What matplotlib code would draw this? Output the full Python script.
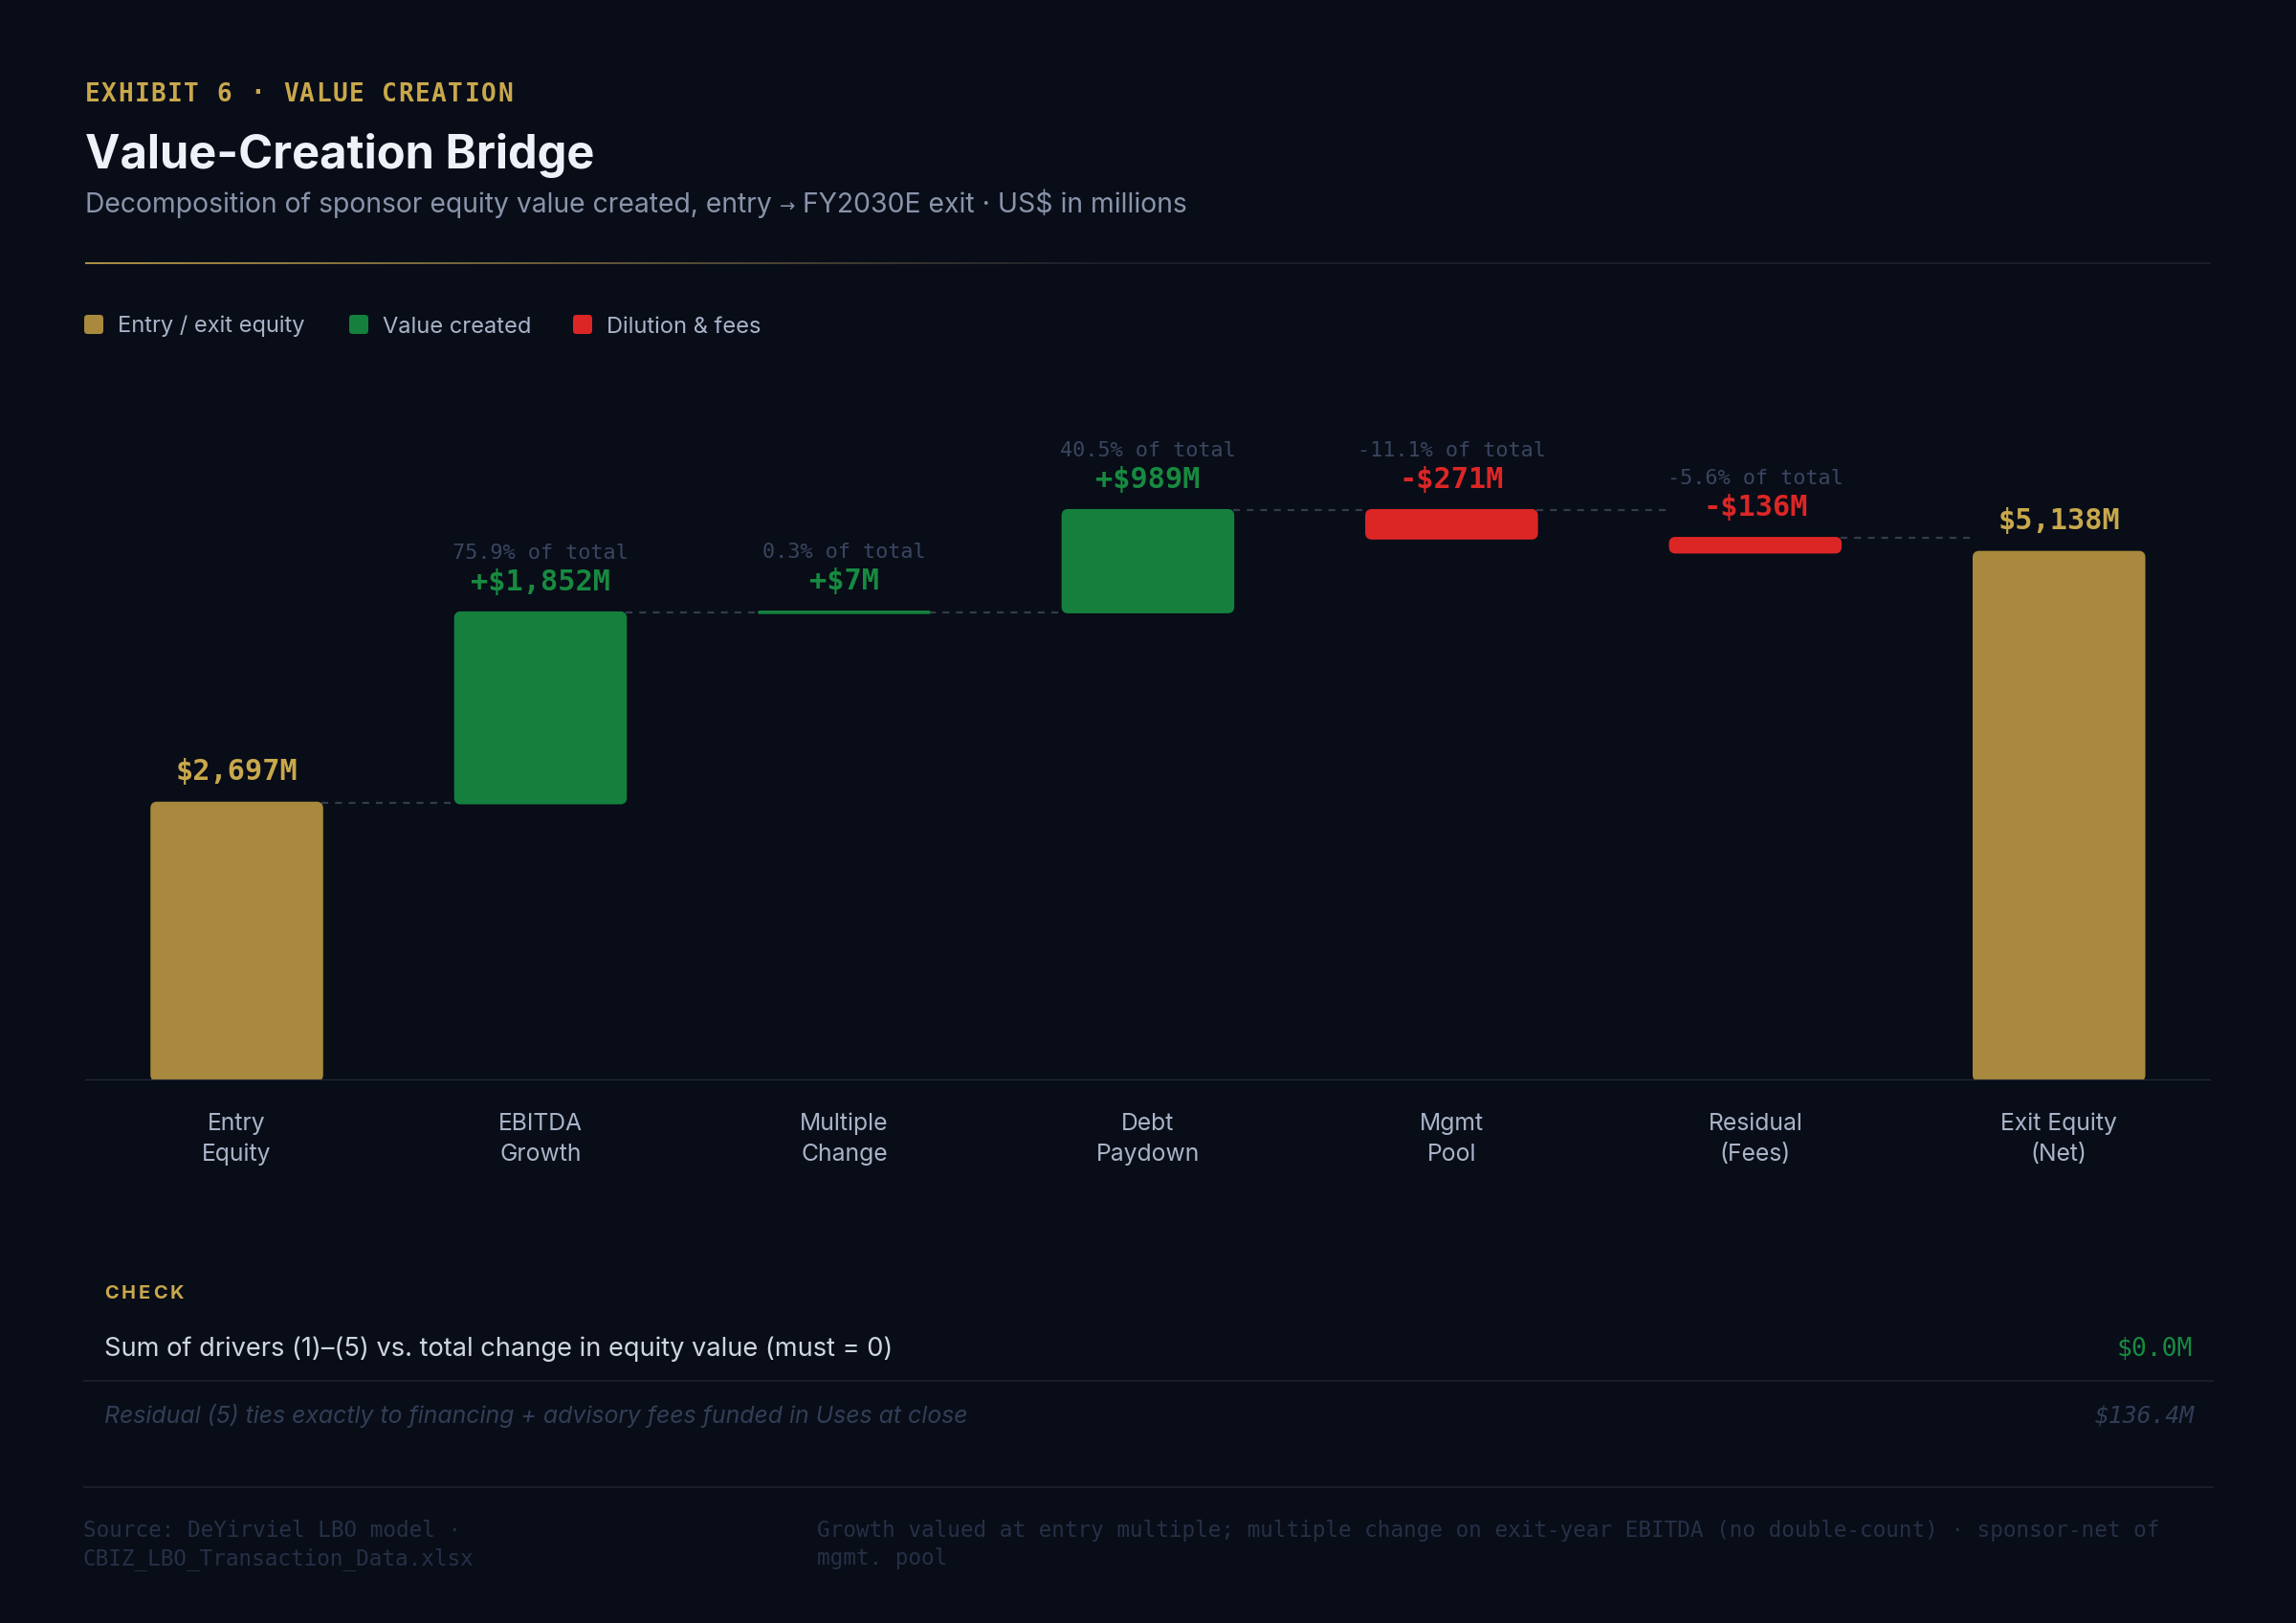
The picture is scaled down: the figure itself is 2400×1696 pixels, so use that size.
import matplotlib
matplotlib.use("Agg")
import matplotlib.pyplot as plt
from matplotlib.patches import FancyBboxPatch
from matplotlib.collections import LineCollection
from matplotlib.colors import to_rgb
import numpy as np

# ---------------- data ----------------
categories = ["Entry\nEquity", "EBITDA\nGrowth", "Multiple\nChange", "Debt\nPaydown",
              "Mgmt\nPool", "Residual\n(Fees)", "Exit Equity\n(Net)"]
entry_equity = 2697
drivers = [1852, 7, 989, -271, -136]
exit_equity = 5138
legend_labels = ["Entry / exit equity", "Value created", "Dilution & fees"]
check_sum_value = "$0.0M"
check_residual_value = "$136.4M"

# ---------------- style ----------------
BG = "#080d18"
GOLD_BAR = "#a8893d"
GOLD_TXT = "#c9a84c"
GREEN = "#15803d"
GREEN_TXT = "#178a40"
RED = "#dc2626"
PCT = "#3a4660"
CONN = "#343c4c"
LABEL = "#a9b4c8"
SUB = "#8994aa"
SANS = ["Inter", "DejaVu Sans"]
MONO = ["DejaVu Sans Mono"]

W, H, DPI = 2400, 1696, 200
fig = plt.figure(figsize=(W / DPI, H / DPI), dpi=DPI)
fig.patch.set_facecolor(BG)
renderer = fig.canvas.get_renderer()


def X(px):
    return px / W


def Y(py):
    return 1 - py / H


def runs(x, y, parts):
    """Place consecutive text runs left to right on one baseline."""
    cx = x
    for s, kw in parts:
        t = fig.text(X(cx), Y(y), s, va="baseline", ha="left", **kw)
        cx += t.get_window_extent(renderer).width
    return cx


# ---------------- header ----------------
def mono_spaced(x, y, s, pitch, **kw):
    for k, ch in enumerate(s):
        fig.text(X(x + k * pitch), Y(y), ch, va="baseline", ha="left", **kw)


mono_spaced(88.8, 105.5, "EXHIBIT 6 · VALUE CREATION", 17.25,
            family=MONO, fontsize=9.4, fontweight="bold", color=GOLD_TXT)
fig.text(X(88.8), Y(176), "Value-Creation Bridge", family=SANS, fontsize=17.6,
         fontweight="bold", color="#eef1f7", va="baseline", ha="left")
sub_kw = dict(family=SANS, fontsize=10.2, color=SUB)
runs(88.8, 222, [
    ("Decomposition of sponsor equity value created, entry ", sub_kw),
    ("\u2192", dict(family=["DejaVu Sans"], fontsize=7.0, color=SUB)),
    (" FY2030E exit \u00b7 US$ in millions", sub_kw),
])

# gradient rule
xs = np.linspace(88.8, 2311, 300)
c0 = np.array(to_rgb(GOLD_TXT))
c1 = np.array(to_rgb("#1d222e"))
segs, cols = [], []
for a, b in zip(xs[:-1], xs[1:]):
    t = min(1.0, (a - 88.8) / (1150 - 88.8))
    segs.append([(X(a), Y(275)), (X(b), Y(275))])
    cols.append(c0 * (1 - t) + c1 * t)
fig.add_artist(LineCollection(segs, colors=cols, linewidths=0.6, transform=fig.transFigure))

# legend
leg_cols = [GOLD_BAR, GREEN, RED]
leg_sq_x = [88, 365, 599]
leg_tx_x = [122.7, 400, 633.5]
for lbl, c, sx, tx in zip(legend_labels, leg_cols, leg_sq_x, leg_tx_x):
    fig.add_artist(FancyBboxPatch((X(sx), Y(349)), X(20), 20 / H,
                                  boxstyle="round,pad=0,rounding_size=0.0015",
                                  mutation_aspect=W / H, fc=c, ec="none",
                                  transform=fig.transFigure))
    fig.text(X(tx), Y(347.5), lbl, family=SANS, fontsize=8.5, color=LABEL,
             va="baseline", ha="left")

# ---------------- chart ----------------
ax_l, ax_r, ax_b, ax_t = 88.8, 2311, 1128.7, 400
ax = fig.add_axes([X(ax_l), Y(ax_b), (ax_r - ax_l) / W, (ax_b - ax_t) / H])
ax.set_facecolor("none")
px_per_M = 0.10737
ymax = (ax_b - ax_t) / px_per_M
ax.set_xlim(-0.5, len(categories) - 0.5)
ax.set_ylim(0, ymax)
for s in ax.spines.values():
    s.set_visible(False)
ax.set_xticks([])
ax.set_yticks([])

values = [entry_equity] + drivers + [exit_equity]
total_change = exit_equity - entry_equity
bottoms, heights, colors = [], [], []
running = entry_equity
for i, v in enumerate(values):
    if i == 0 or i == len(values) - 1:
        bottoms.append(0)
        heights.append(v)
        colors.append(GOLD_BAR)
    else:
        if v >= 0:
            bottoms.append(running)
            colors.append(GREEN)
        else:
            bottoms.append(running + v)
            colors.append(RED)
        heights.append(abs(v))
        running += v
tops = [b + h for b, h in zip(bottoms, heights)]

xpos = np.arange(len(categories))
BW = 0.56
bars = ax.bar(xpos, heights, bottom=bottoms, width=BW, color=colors)

px_per_x = (ax_r - ax_l) / len(categories)
asp = px_per_x / px_per_M
r_px = 5.5
for rect, c in zip(bars.patches, colors):
    x0, y0 = rect.get_x(), rect.get_y()
    w, h = rect.get_width(), rect.get_height()
    r = min(r_px / px_per_x, w / 2, (h / asp) / 2)
    p = FancyBboxPatch((x0, y0), w, h, boxstyle=f"round,pad=0,rounding_size={r}",
                       mutation_aspect=asp, fc=c, ec=c, lw=1.0, zorder=3)
    ax.add_patch(p)
    rect.remove()

# connectors (drawn at the top of each bar)
for i in range(len(categories) - 1):
    ax.plot([i + BW / 2, i + 1 - BW / 2], [tops[i], tops[i]], color=CONN,
            lw=0.8, dashes=(3.2, 3.2), zorder=2, solid_capstyle="butt")

# baseline
ax.axhline(0, color="#262c3a", lw=0.8, zorder=4)

# value labels
for i, v in enumerate(values):
    top = tops[i]
    if i == 0 or i == len(values) - 1:
        ax.annotate(f"${v:,.0f}M", (i, top), xytext=(0, 8.6), textcoords="offset points",
                    ha="center", va="baseline", family=MONO, fontsize=10.9,
                    fontweight="bold", color=GOLD_TXT)
    else:
        sign = "+" if v >= 0 else "-"
        col = GREEN_TXT if v >= 0 else RED
        ax.annotate(f"{sign}${abs(v):,.0f}M", (i, top), xytext=(0, 8.3),
                    textcoords="offset points", ha="center", va="baseline",
                    family=MONO, fontsize=10.9, fontweight="bold", color=col)
        ax.annotate(f"{v / total_change * 100:.1f}% of total", (i, top), xytext=(0, 20.4),
                    textcoords="offset points", ha="center", va="baseline",
                    family=MONO, fontsize=7.9, color=PCT)

# category labels
for i, lab in enumerate(categories):
    for k, ln in enumerate(lab.split("\n")):
        ax.annotate(ln, (i, 0), xytext=(0, -18.9 - k * 11.5), textcoords="offset points",
                    ha="center", va="baseline", family=SANS, fontsize=8.9,
                    color=LABEL, annotation_clip=False)

# ---------------- check section ----------------
cx = 108.7
for ch in "CHECK":
    t = fig.text(X(cx), Y(1357), ch, family=SANS, fontsize=7.2, fontweight="bold",
                 color=GOLD_TXT, va="baseline", ha="left")
    cx += t.get_window_extent(renderer).width + 3.2

fig.text(X(108.7), Y(1417), "Sum of drivers (1)\u2013(5) vs. total change in equity value (must = 0)",
         family=SANS, fontsize=9.8, color="#d0d6e0", va="baseline", ha="left")
fig.text(X(2292), Y(1417), check_sum_value, family=MONO, fontsize=9.5, color=GREEN_TXT,
         va="baseline", ha="right")
fig.add_artist(plt.Line2D([X(88), X(2313)], [Y(1443), Y(1443)], color="#1a1f2b", lw=0.7,
                          transform=fig.transFigure))
fig.text(X(108.7), Y(1487), "Residual (5) ties exactly to financing + advisory fees funded in Uses at close",
         family=SANS, fontsize=8.95, style="italic", color="#323e56", va="baseline", ha="left")
fig.text(X(2294), Y(1487), check_residual_value, family=MONO, fontsize=8.9, style="italic",
         color="#323e56", va="baseline", ha="right")
fig.add_artist(plt.Line2D([X(88), X(2313)], [Y(1554), Y(1554)], color="#1a1f2b", lw=0.7,
                          transform=fig.transFigure))

# footer
FOOT = "#263046"
fig.text(X(87), Y(1606), "Source: DeYirviel LBO model \u00b7", family=MONO, fontsize=8.15,
         color=FOOT, va="baseline", ha="left")
fig.text(X(87), Y(1635), "CBIZ_LBO_Transaction_Data.xlsx", family=MONO, fontsize=8.15,
         color=FOOT, va="baseline", ha="left")
fig.text(X(854.5), Y(1606),
         "Growth valued at entry multiple; multiple change on exit-year EBITDA (no double-count) \u00b7 sponsor-net of",
         family=MONO, fontsize=8.15, color=FOOT, va="baseline", ha="left")
fig.text(X(854.5), Y(1635), "mgmt. pool", family=MONO, fontsize=8.15, color=FOOT,
         va="baseline", ha="left")

fig.savefig("out.png", dpi=DPI, facecolor=BG)
